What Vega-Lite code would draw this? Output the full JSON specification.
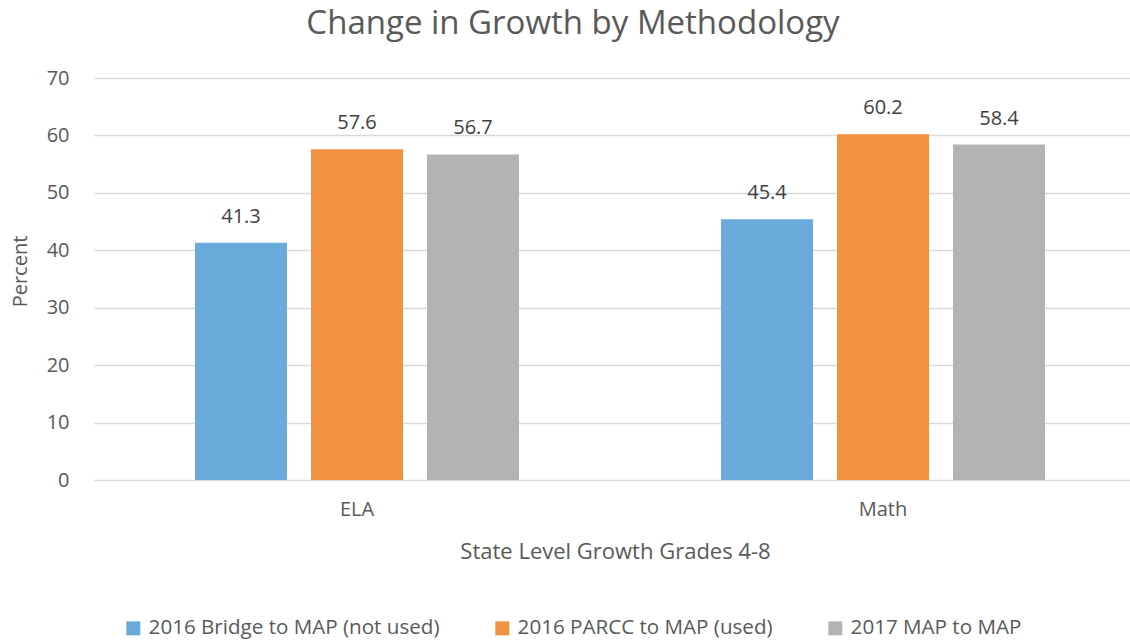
{
  "$schema": "https://vega.github.io/schema/vega-lite/v6.json",
  "width": 1036,
  "height": 402,
  "autosize": {"type": "none"},
  "padding": {"left": 94, "top": 78, "right": 0, "bottom": 163},
  "background": "white",
  "title": {
    "text": "Change in Growth by Methodology",
    "font": "Open Sans",
    "fontSize": 33,
    "fontWeight": "normal",
    "color": "#595959",
    "anchor": "middle",
    "frame": "group",
    "dx": -39,
    "offset": 27
  },
  "config": {
    "font": "Open Sans",
    "view": {"stroke": null},
    "axis": {
      "labelFont": "Open Sans",
      "labelFontSize": 20,
      "labelColor": "#595959",
      "titleFont": "Open Sans",
      "titleFontSize": 20,
      "titleFontWeight": "normal",
      "titleColor": "#595959",
      "gridColor": "#D9D9D9",
      "gridWidth": 1.5,
      "ticks": false,
      "domain": false
    },
    "legend": {
      "labelFont": "Open Sans",
      "labelFontSize": 20.6,
      "labelColor": "#595959"
    }
  },
  "data": {
    "values": [
      {"subject": "ELA", "method": "2016 Bridge to MAP (not used)", "value": 41.3},
      {"subject": "ELA", "method": "2016 PARCC to MAP (used)", "value": 57.6},
      {"subject": "ELA", "method": "2017 MAP to MAP", "value": 56.7},
      {"subject": "Math", "method": "2016 Bridge to MAP (not used)", "value": 45.4},
      {"subject": "Math", "method": "2016 PARCC to MAP (used)", "value": 60.2},
      {"subject": "Math", "method": "2017 MAP to MAP", "value": 58.4}
    ]
  },
  "encoding": {
    "x": {
      "field": "subject",
      "type": "nominal",
      "sort": ["ELA", "Math"],
      "scale": {"paddingInner": 0.384, "paddingOuter": 0.1768, "align": 0.543, "round": false},
      "axis": {
        "title": "State Level Growth Grades 4-8",
        "titleFontSize": 22,
        "labelAngle": 0,
        "labelPadding": 19,
        "grid": false,
        "titleX": 521,
        "titleY": 71,
        "titleAlign": "center",
        "titleBaseline": "middle"
      }
    },
    "xOffset": {
      "field": "method",
      "type": "nominal",
      "sort": ["2016 Bridge to MAP (not used)", "2016 PARCC to MAP (used)", "2017 MAP to MAP"],
      "scale": {"paddingInner": 0.207, "paddingOuter": 0, "round": false}
    },
    "y": {
      "field": "value",
      "type": "quantitative",
      "scale": {"domain": [0, 70], "nice": false},
      "axis": {
        "title": "Percent",
        "values": [0, 10, 20, 30, 40, 50, 60, 70],
        "labelPadding": 25,
        "titleAngle": -90,
        "titleX": -74,
        "titleY": 193,
        "titleAlign": "center",
        "titleBaseline": "middle"
      }
    }
  },
  "layer": [
    {
      "mark": {"type": "bar"},
      "encoding": {
        "color": {
          "field": "method",
          "type": "nominal",
          "scale": {
            "domain": ["2016 Bridge to MAP (not used)", "2016 PARCC to MAP (used)", "2017 MAP to MAP"],
            "range": ["#6AABDC", "#F29240", "#B3B3B3"]
          },
          "legend": {
            "title": null,
            "orient": "none",
            "direction": "horizontal",
            "legendX": 29,
            "legendY": 540,
            "symbolType": "square",
            "symbolSize": 196,
            "symbolStrokeWidth": 0,
            "symbolOpacity": 1,
            "labelOffset": 5,
            "labelLimit": 0,
            "columnPadding": 52
          }
        }
      }
    },
    {
      "mark": {"type": "text", "baseline": "middle", "dy": -26, "fontSize": 20, "color": "#404040", "font": "Open Sans"},
      "encoding": {
        "text": {"field": "value", "type": "quantitative", "format": ".1f"}
      }
    }
  ]
}
